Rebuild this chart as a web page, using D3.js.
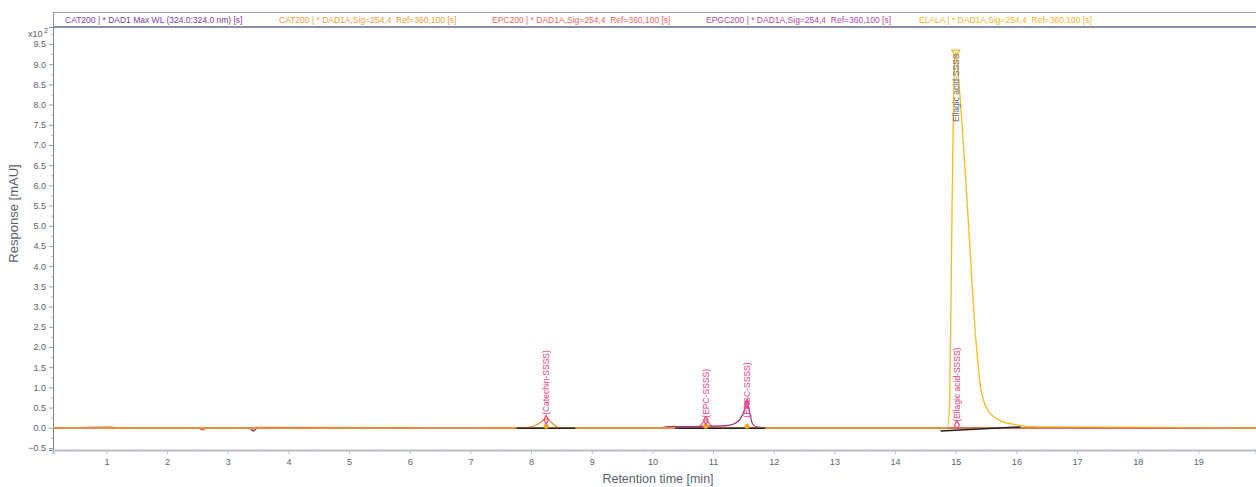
<!DOCTYPE html>
<html>
<head>
<meta charset="utf-8">
<script src="https://cdn.jsdelivr.net/npm/d3@7"></script>
<style>
  body { margin: 0; background: #fff; }
  svg { font-family: "Liberation Sans", Arial, sans-serif; }
  .tick text { fill: #5a5f6e; font-size: 9px; }
</style>
</head>
<body>
<svg id="chart" width="1256" height="487"></svg>
<script>
// series: [retention time (min), response (x10^2 mAU)]
const catMaxWl = [[0.12, 0], [0.9, 0.01], [1.2, 0], [2.52, 0], [2.58, -0.05], [2.65, 0], [3.35, 0], [3.42, -0.08], [3.5, 0], [19.95, 0]];
const catDad = [[0.12, 0], [0.9, 0.01], [1.05, 0.02], [1.2, 0], [2.54, 0], [2.6, -0.05], [2.66, 0], [3.37, 0], [3.42, -0.05], [3.48, 0.01], [7.9, 0],
  [8.0, 0.02], [8.1, 0.08], [8.2, 0.18], [8.25, 0.22], [8.3, 0.18], [8.38, 0.07], [8.45, 0.01], [8.6, 0], [19.95, 0]];
const epcDad = [[0.12, 0], [10.7, 0], [10.78, 0.04], [10.84, 0.14], [10.88, 0.2], [10.93, 0.12], [11.0, 0.02], [11.1, 0], [19.95, 0]];
const epgcDad = [[0.12, 0], [10.15, 0], [10.25, 0.03], [10.6, 0.03], [10.9, 0.04], [11.2, 0.05], [11.35, 0.1], [11.45, 0.22], [11.52, 0.45],
  [11.56, 0.66], [11.6, 0.4], [11.65, 0.1], [11.72, 0.02], [11.9, 0], [19.95, 0]];
const elalaDad = [[0.12, 0], [14.86, 0], [14.9, 0.6], [14.94, 5.5], [14.98, 9.0], [15.0, 9.3], [15.05, 8.6], [15.1, 7.6], [15.15, 6.5],
  [15.2, 5.3], [15.26, 3.8], [15.32, 2.4], [15.36, 1.7], [15.4, 1.1], [15.45, 0.72], [15.52, 0.46], [15.62, 0.28], [15.74, 0.17],
  [15.97, 0.08], [16.35, 0.02], [19.95, 0]];

const legendTexts = [
  'CAT200 | * DAD1 Max WL (324.0:324.0 nm) [s]',
  'CAT200 | * DAD1A,Sig=254,4  Ref=360,100 [s]',
  'EPC200 | * DAD1A,Sig=254,4  Ref=360,100 [s]',
  'EPGC200 | * DAD1A,Sig=254,4  Ref=360,100 [s]',
  'ELALA | * DAD1A,Sig=254,4  Ref=360,100 [s]'
];
const legendColors = ['#7a3aa8', '#f59a3c', '#f0685a', '#b2469e', '#f6b52a'];

// integration baselines [t0, v0, t1, v1]
const baselines = [[7.76, -0.01, 8.73, -0.01], [10.38, -0.01, 11.17, -0.01], [11.17, -0.01, 11.86, -0.01], [14.75, -0.08, 16.07, 0.02]];
// peak labels [time, marker value, label base value, label]
const peakLabels = [[8.25, 0.2, 0.32, '(Catechin-SSSS)'], [10.88, 0.18, 0.25, '(EPC-SSSS)'], [11.56, 0.6, 0.25, '(EPGC-SSSS)'],
  [15.02, 0.07, 0.15, '(Ellagic acid-SSSS)']];
const xTicks = d3.range(1, 20);
const yTicks = d3.range(-0.5, 9.51, 0.5);

const svg = d3.select('#chart');
const plotLeft = 53, plotRight = 1256, plotTop = 27, plotBottom = 450;

const x = d3.scaleLinear().domain([0.12, 19.95]).range([plotLeft, plotRight]);
const y = d3.scaleLinear().domain([-0.55, 9.92]).range([plotBottom, plotTop]);

// header band
svg.append('line').attr('x1', plotLeft).attr('x2', plotRight).attr('y1', 12.5).attr('y2', 12.5)
  .attr('stroke', '#9a9eb2').attr('stroke-width', 1);
svg.append('line').attr('x1', plotLeft).attr('x2', plotRight).attr('y1', 27).attr('y2', 27)
  .attr('stroke', '#8a8ea6').attr('stroke-width', 2);
svg.append('line').attr('x1', plotLeft + 0.5).attr('x2', plotLeft + 0.5).attr('y1', 12).attr('y2', 27)
  .attr('stroke', '#8a8ea6');
const legendX = [65, 279, 492, 706, 919];
svg.selectAll('.legend').data(legendTexts).enter().append('text')
  .attr('x', (d, i) => legendX[i]).attr('y', 23)
  .attr('font-size', 8.5).attr('fill', (d, i) => legendColors[i])
  .style('white-space', 'pre')
  .text(d => d);

// axes
const yAxis = svg.append('g').attr('transform', `translate(${plotLeft},0)`)
  .call(d3.axisLeft(y).tickValues(yTicks).tickFormat(d3.format('.1f')).tickSize(4).tickPadding(3));
yAxis.select('.domain').attr('stroke', '#7c8299');
yAxis.selectAll('.tick line').attr('stroke', '#9aa0b4');
svg.append('g').attr('transform', `translate(${plotLeft},0)`)
  .call(d3.axisLeft(y).tickValues(d3.range(-0.25, 9.8, 0.5)).tickFormat('').tickSize(2))
  .call(g => g.select('.domain').remove())
  .selectAll('.tick line').attr('stroke', '#b8bccb');

const xAxis = svg.append('g').attr('transform', `translate(0,${plotBottom})`)
  .call(d3.axisBottom(x).tickValues(xTicks).tickFormat(d3.format('d')).tickSize(4).tickPadding(5));
xAxis.select('.domain').attr('stroke', '#b9bdcb').attr('stroke-width', 2);
xAxis.selectAll('.tick line').attr('stroke', '#b9bdcb');
svg.append('g').attr('transform', `translate(0,${plotBottom})`)
  .call(d3.axisBottom(x).tickValues(d3.range(0.5, 19.9, 1)).tickFormat('').tickSize(2))
  .call(g => g.select('.domain').remove())
  .selectAll('.tick line').attr('stroke', '#c6c9d4');

svg.append('text').attr('x', 28).attr('y', 37).attr('font-size', 9).attr('fill', '#5a5f6e').text('x10');
svg.append('text').attr('x', 44).attr('y', 33).attr('font-size', 7).attr('fill', '#5a5f6e').text('2');

svg.append('text').attr('transform', `translate(18,${(plotTop + plotBottom) / 2 - 25}) rotate(-90)`)
  .attr('text-anchor', 'middle').attr('font-size', 13).attr('fill', '#5a5f6e')
  .text('Response [mAU]');
svg.append('text').attr('x', 658).attr('y', 483).attr('text-anchor', 'middle')
  .attr('font-size', 12.5).attr('fill', '#5a5f6e').text('Retention time [min]');

// traces
const line = d3.line().curve(d3.curveMonotoneX).x(d => x(d[0])).y(d => y(d[1]));
const plot = svg.append('g');
const traces = [[catMaxWl, '#7030a0'], [epcDad, '#ee6a6a'], [epgcDad, '#a8308a'], [elalaDad, '#f9bb22'], [catDad, '#f0892c']];
plot.selectAll('.trace').data(traces).enter().append('path')
  .attr('d', d => line(d[0])).attr('fill', 'none')
  .attr('stroke', d => d[1]).attr('stroke-width', 1.3);

plot.selectAll('.baseline').data(baselines).enter().append('line')
  .attr('x1', d => x(d[0])).attr('y1', d => y(d[1]))
  .attr('x2', d => x(d[2])).attr('y2', d => y(d[3]))
  .attr('stroke', '#222').attr('stroke-width', 1.5);

// markers
plot.selectAll('.basedot').data(peakLabels.slice(0, 3)).enter().append('circle')
  .attr('cx', d => x(d[0])).attr('cy', y(0.04)).attr('r', 2.5).attr('fill', '#f5a623');
plot.selectAll('.peakmark').data(peakLabels).enter().append('path')
  .attr('transform', d => `translate(${x(d[0])},${y(d[1])})`)
  .attr('d', d3.symbol(d3.symbolDiamond, 20))
  .attr('fill', 'none').attr('stroke', '#e8407f').attr('stroke-width', 1.2);
plot.selectAll('.peaktext').data(peakLabels).enter().append('text')
  .attr('transform', d => `translate(${x(d[0]) + 3},${y(d[2])}) rotate(-90)`)
  .attr('font-size', 8.5).attr('fill', '#e8407f').text(d => d[3]);

const apex = elalaDad.find(d => d[1] === d3.max(elalaDad, e => e[1]));
plot.append('path').attr('transform', `translate(${x(apex[0])},${y(apex[1]) + 2})`)
  .attr('d', 'M-4,-4 L4,-4 L0,3 Z').attr('fill', 'none').attr('stroke', '#f5b82e').attr('stroke-width', 1.2);
plot.append('text').attr('transform', `translate(${x(apex[0]) + 3},${y(apex[1]) + 70}) rotate(-90)`)
  .attr('font-size', 8.5).attr('fill', '#666b78').text('Ellagic acid-SSSS');
</script>
</body>
</html>
